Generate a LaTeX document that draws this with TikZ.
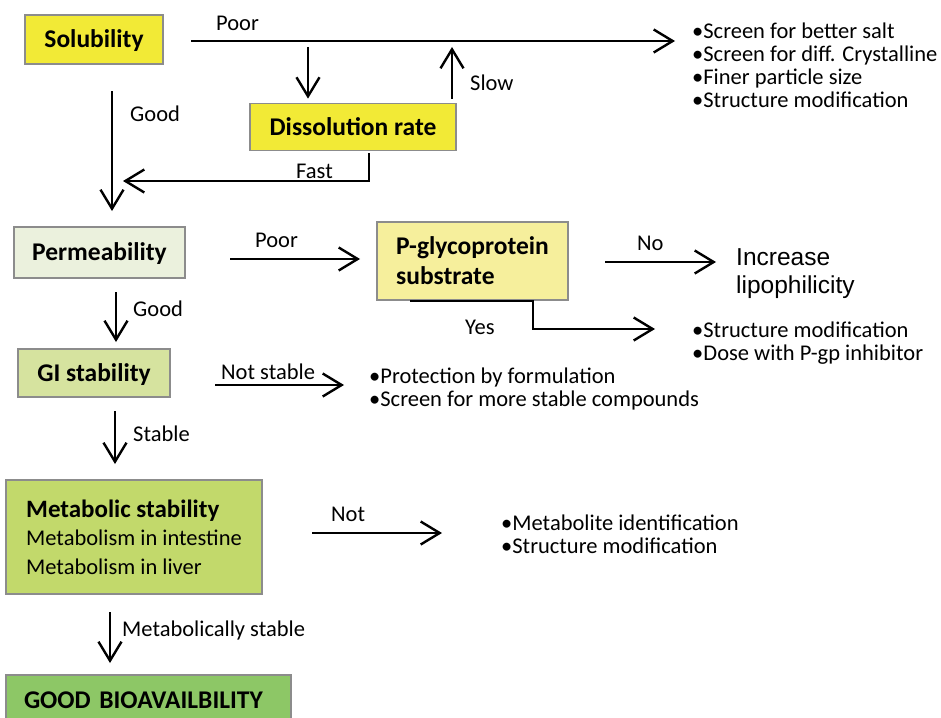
\documentclass[tikz,border=0pt]{standalone}
\usepackage{fontspec}
\setmainfont{Carlito}
\newfontfamily\arialfont{Liberation Sans}
\usetikzlibrary{arrows.meta}
\definecolor{boxedge}{HTML}{8C8C8C}
\definecolor{solfill}{HTML}{F2EA36}
\definecolor{permfill}{HTML}{EBF1DD}
\definecolor{pgpfill}{HTML}{F6EF9C}
\definecolor{gifill}{HTML}{D6E39F}
\definecolor{metfill}{HTML}{C2D96B}
\definecolor{goodfill}{HTML}{8DC766}
\begin{document}
\begin{tikzpicture}[x=1pt,y=-1pt,
  box/.style={draw=boxedge, line width=1.8pt, rectangle, inner sep=0pt,
    font=\bfseries\fontsize{25.5}{30}\selectfont},
  oneline/.style={text height=16.5pt, text depth=0pt},
  flow/.style={line width=2.4pt, -{Straight Barb[length=19pt,width=23pt]}},
  lbl/.style={anchor=base west, inner sep=0pt, font=\fontsize{22.5}{27}\selectfont},
  item/.style={anchor=base west, inner sep=0pt, font=\fontsize{22.5}{27}\selectfont}]
\useasboundingbox (0,0) rectangle (941,717);

% decision boxes
\node[box, oneline, fill=solfill, minimum width=138, minimum height=49] (sol) at (94,39.5) {Solubility};
\node[box, oneline, fill=solfill, minimum width=206, minimum height=47] (dis) at (353,127) {Dissolution rate};
\node[box, oneline, fill=permfill, minimum width=171, minimum height=51] (perm) at (99.5,252.5) {Permeability};
\node[box, fill=pgpfill, minimum width=191, minimum height=78, align=left,
  font=\bfseries\fontsize{25.5}{30}\selectfont] (pgp) at (472.5,261) {P-glycoprotein\\substrate};
\node[box, oneline, fill=gifill, minimum width=152, minimum height=48] (gi) at (94,373) {GI stability};
\node[box, fill=metfill, minimum width=256, minimum height=114, align=left,
  font=\fontsize{22.5}{28.5}\selectfont] (met) at (134,537)
  {{\bfseries\fontsize{25}{28.5}\selectfont Metabolic stability}\\Metabolism in intestine\\Metabolism in liver};
\node[box, oneline, fill=goodfill, text width=249pt, inner xsep=18pt, align=left,
  minimum height=50] (good) at (148.5,700) {\mbox{GOOD BIOAVAILBILITY}};

% outcome lists
\node[item] (s1) at (692,38) {\textbullet Screen for better salt};
\node[item] (s2) at (692,61) {\textbullet Screen for diff. Crystalline};
\node[item] (s3) at (692,84) {\textbullet Finer particle size};
\node[item] (s4) at (692,107) {\textbullet Structure modification};
\node[anchor=base west, inner sep=0pt, font=\arialfont\fontsize{24.5}{28}\selectfont] (lipo) at (736,265) {Increase};
\node[anchor=base west, inner sep=0pt, font=\arialfont\fontsize{24.5}{28}\selectfont] (lipo2) at (736,293) {lipophilicity};
\node[item] (p1) at (692,337) {\textbullet Structure modification};
\node[item] (p2) at (692,360) {\textbullet Dose with P-gp inhibitor};
\node[item] (g1) at (369,383) {\textbullet Protection by formulation};
\node[item] (g2) at (369,406) {\textbullet Screen for more stable compounds};
\node[item] (m1) at (501,530) {\textbullet Metabolite identification};
\node[item] (m2) at (501,553) {\textbullet Structure modification};

% connector end points
\coordinate (poorA) at (191,41);
\coordinate (poorB) at (675,41);
\coordinate (downA) at (308,47);
\coordinate (slowB) at (452,47);
\coordinate (fastC) at (369,181);
\coordinate (fastE) at (123,181);
\coordinate (goodA) at (112,91);
\coordinate (goodB) at (112,211);
\coordinate (ppA) at (230,259);
\coordinate (ppB) at (360,259);
\coordinate (noA) at (605,262);
\coordinate (noB) at (716,262);
\coordinate (yesA) at (410,301);
\coordinate (yesC) at (533,329);
\coordinate (yesE) at (655,329);
\coordinate (pgA) at (116,292);
\coordinate (pgB) at (116,342);
\coordinate (nsA) at (215,385);
\coordinate (nsB) at (344,385);
\coordinate (stA) at (115,411);
\coordinate (stB) at (115,464);
\coordinate (notA) at (312,533);
\coordinate (notB) at (442,533);
\coordinate (msA) at (110,612);
\coordinate (msB) at (110,663);

% connectors
\draw[flow] (poorA) -- (poorB);
\draw[flow, shorten >=4pt] (downA) -- (downA |- dis.north);
\draw[flow, shorten <=4pt] (slowB |- dis.north) -- (slowB);
\draw[flow, shorten <=2pt] (dis.south -| fastC) -- (fastC) -- (fastE);
\draw[flow] (goodA) -- (goodB);
\draw[flow] (ppA) -- (ppB);
\draw[flow] (noA) -- (noB);
\draw[flow] (yesA) -- (yesA -| yesC) -- (yesC) -- (yesE);
\draw[flow] (pgA) -- (pgB);
\draw[flow] (nsA) -- (nsB);
\draw[flow] (stA) -- (stB);
\draw[flow] (notA) -- (notB);
\draw[flow] (msA) -- (msB);

% connector labels
\node[lbl] at (216,31) {Poor};
\node[lbl] at (470,90) {Slow};
\node[lbl] at (130,121) {Good};
\node[lbl] at (296,178) {Fast};
\node[lbl] at (255,247) {Poor};
\node[lbl] at (637,250) {No};
\node[lbl] at (465,334) {Yes};
\node[lbl] at (133,316) {Good};
\node[lbl] at (221,379) {Not stable};
\node[lbl] at (133,441) {Stable};
\node[lbl] at (331,521) {Not};
\node[lbl] at (122,636) {Metabolically stable};
\end{tikzpicture}
\end{document}
